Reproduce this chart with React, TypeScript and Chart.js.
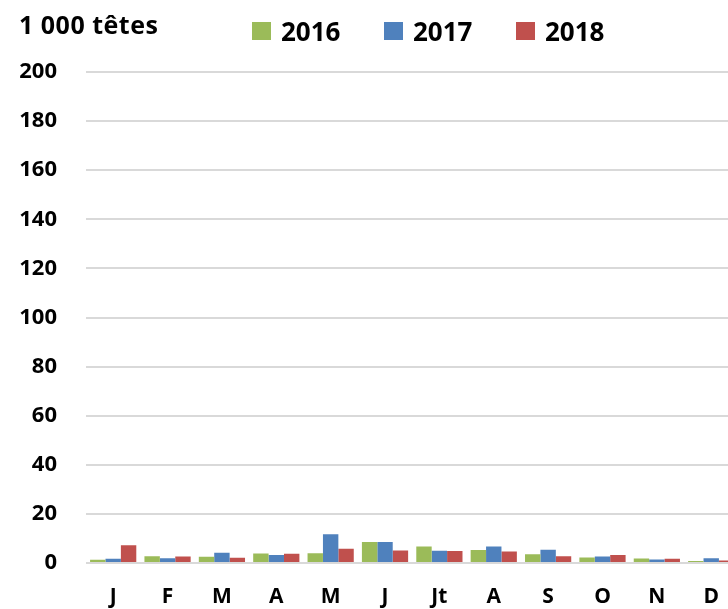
import React, { useEffect, useRef } from "react";
import { Chart, registerables } from "chart.js";

Chart.register(...registerables);

const months = ["J", "F", "M", "A", "M", "J", "Jt", "A", "S", "O", "N", "D"];
const series2016 = [1.3, 2.8, 2.5, 3.9, 4.0, 8.6, 6.7, 5.3, 3.6, 2.2, 1.8, 0.8];
const series2017 = [1.7, 1.9, 4.2, 3.3, 11.7, 8.6, 5.0, 6.7, 5.4, 2.6, 1.4, 1.9];
const series2018 = [7.2, 2.6, 2.1, 3.75, 5.8, 5.1, 4.9, 4.7, 2.8, 3.3, 1.7, 1.0];
const yearLabels = ["2016", "2017", "2018"];
const colors = ["#9BBB59", "#4F81BD", "#C0504D"];
const yTicks = [0, 20, 40, 60, 80, 100, 120, 140, 160, 180, 200];
const unitLabel = "1 000 têtes";

const FONT = "'Open Sans', Lato, sans-serif";

export default function App() {
  const ref = useRef<HTMLCanvasElement | null>(null);

  useEffect(() => {
    if (!ref.current) return;
    const chart = new Chart(ref.current, {
      type: "bar",
      data: {
        labels: months,
        datasets: [series2016, series2017, series2018].map((d, i) => ({
          label: yearLabels[i],
          data: d,
          backgroundColor: colors[i],
          borderWidth: 0,
          categoryPercentage: 0.85,
          barPercentage: 1.0,
        })),
      },
      options: {
        responsive: false,
        animation: false,
        layout: { padding: { top: 72, right: 0, left: 0, bottom: 0 } },
        plugins: {
          legend: { display: false },
          tooltip: { enabled: false },
          title: { display: false },
        },
        scales: {
          x: {
            grid: { display: false, drawTicks: false },
            border: { display: false },
            ticks: {
              color: "#000",
              padding: 21,
              font: { family: FONT, size: 21, weight: "bold" },
              maxRotation: 0,
              autoSkip: false,
            },
            afterFit: (s: any) => {
              s.height = 46;
            },
          },
          y: {
            min: 0,
            max: 200,
            afterBuildTicks: (s: any) => {
              s.ticks = yTicks.map((v) => ({ value: v }));
            },
            grid: { color: "#d9d9d9", lineWidth: 2, drawTicks: false },
            border: { display: false },
            ticks: {
              color: "#000",
              padding: 29,
              font: { family: FONT, size: 22, weight: "bold" },
            },
            afterFit: (s: any) => {
              s.width = 86;
            },
          },
        },
      },
    });
    return () => chart.destroy();
  }, []);

  return (
    <div
      style={{
        position: "fixed",
        left: 0,
        top: 0,
        width: 728,
        height: 609,
        overflow: "hidden",
        background: "#fff",
      }}
    >
      <canvas ref={ref} width={740} height={609} style={{ position: "absolute", left: 0, top: 0 }} />
      <div
        style={{
          position: "absolute",
          left: 19,
          top: 12,
          fontFamily: FONT,
          fontWeight: "bold",
          fontSize: 25,
          letterSpacing: 0.5,
          lineHeight: 1,
          color: "#000",
          whiteSpace: "nowrap",
        }}
      >
        {unitLabel}
      </div>
      {yearLabels.map((y, i) => (
        <div
          key={y}
          style={{
            position: "absolute",
            left: 252 + i * 132,
            top: 18,
            display: "flex",
            alignItems: "center",
            fontFamily: FONT,
            fontWeight: "bold",
            fontSize: 26,
            lineHeight: 1,
            color: "#000",
            whiteSpace: "nowrap",
          }}
        >
          <span
            style={{
              display: "inline-block",
              width: 19,
              height: 18,
              background: colors[i],
              marginRight: 10,
            }}
          />
          <span>{y}</span>
        </div>
      ))}
    </div>
  );
}
